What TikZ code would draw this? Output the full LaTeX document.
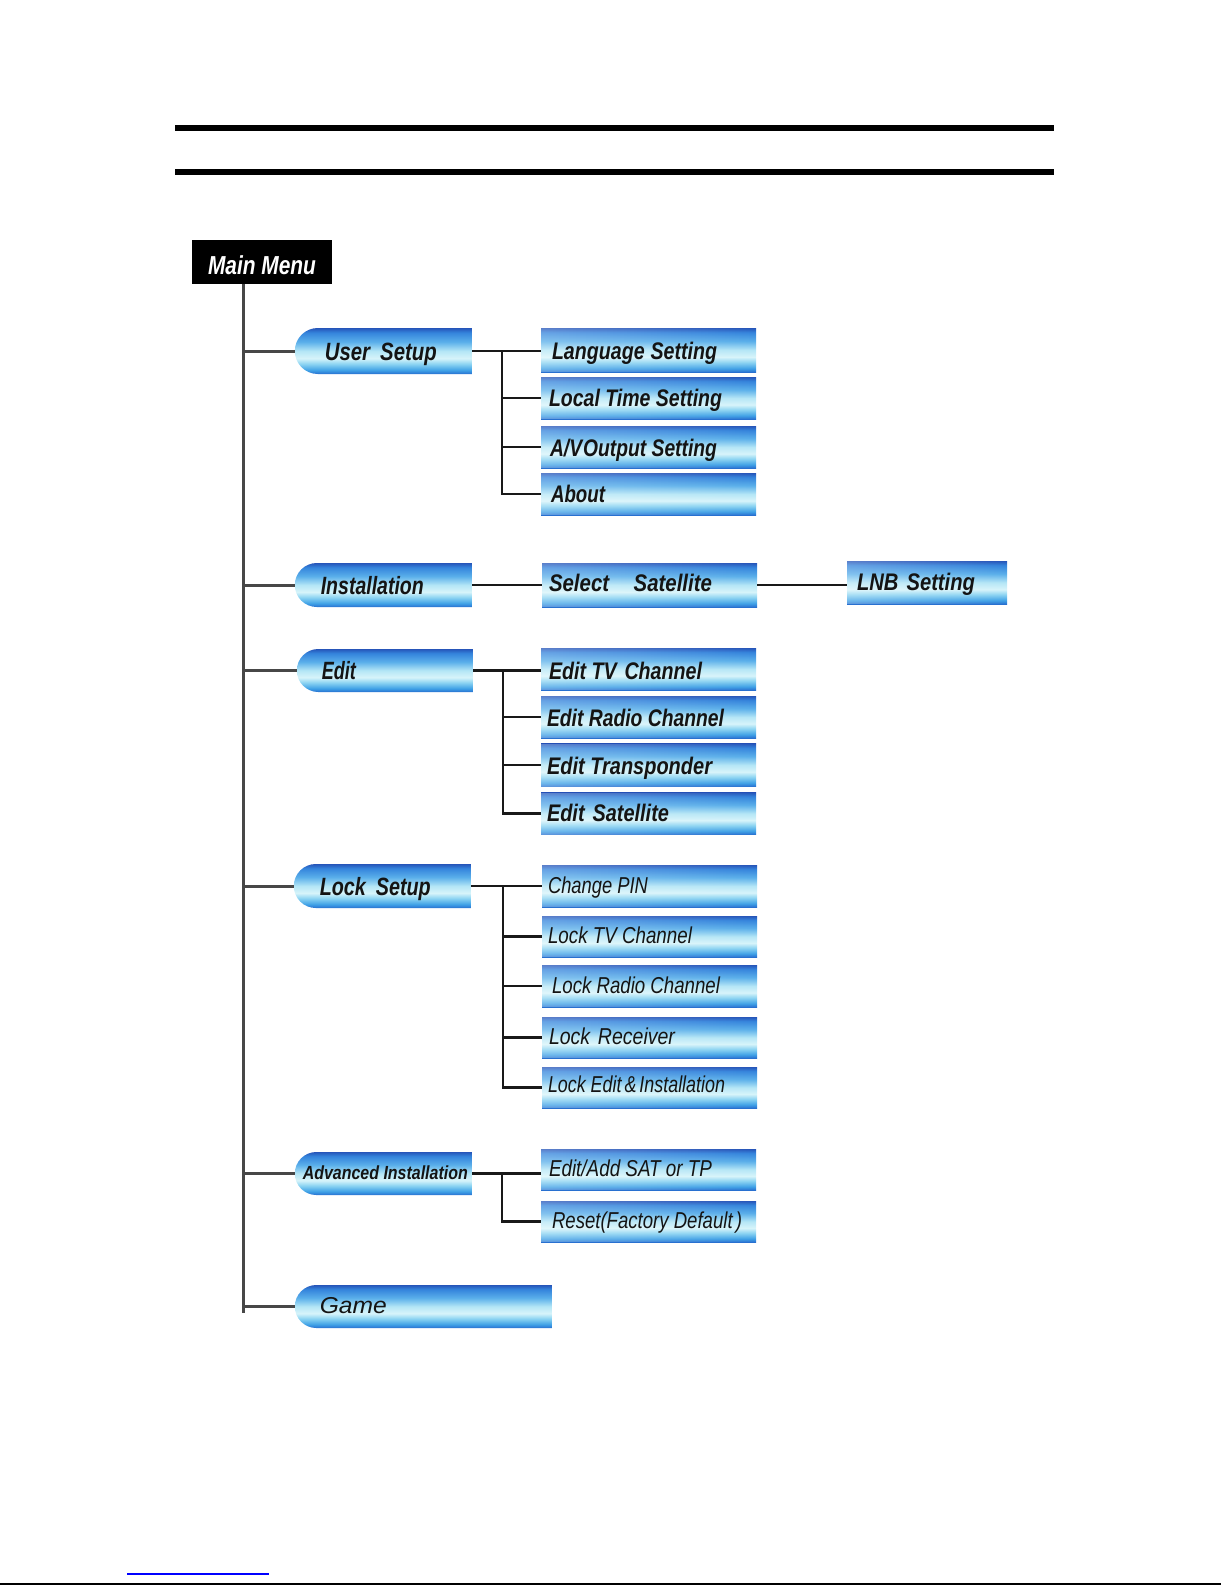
\documentclass[tikz,border=0pt]{standalone}
\usepackage{fontspec}
\setmainfont{Liberation Sans}
\usetikzlibrary{shapes.misc,calc,fadings}
\definecolor{sb0}{RGB}{40,112,208}
\definecolor{sb1}{RGB}{62,160,230}
\definecolor{sb2}{RGB}{140,212,242}
\definecolor{sb3}{RGB}{215,244,250}
\definecolor{sb4}{RGB}{180,230,246}
\definecolor{sb5}{RGB}{90,175,234}
\definecolor{sb6}{RGB}{52,132,220}
\definecolor{sb7}{RGB}{38,85,185}
\pgfdeclareverticalshading{boxshade}{100bp}{color(0bp)=(sb0); color(25bp)=(sb0); color(29bp)=(sb1); color(36bp)=(sb2); color(42bp)=(sb3); color(50bp)=(sb4); color(60bp)=(sb5); color(70bp)=(sb6); color(75bp)=(sb7); color(100bp)=(sb7)}
\newcommand\fitw[2]{\resizebox{#1pt}{\height}{#2}}
\begin{document}
\begin{tikzpicture}[x=1pt,y=-1pt,
  glow/.style={postaction={fill=white, fill opacity=0.25, path fading=east}},
  l1/.style={rounded rectangle, rounded rectangle right arc=none, shade, shading=boxshade, draw=none, inner sep=0pt, anchor=east},
  l2/.style={rectangle, shade, shading=boxshade, draw=none, inner sep=0pt, minimum width=215pt, glow},
  tl/.style={font=\fontsize{24}{28}\selectfont\bfseries\itshape, text=black!92, inner sep=0pt, anchor=base west},
  tls/.style={tl, font=\fontsize{23}{27}\selectfont\itshape},
  conn/.style={line width=2.8pt, black!90},
  trunkline/.style={line width=3pt, black!72}]
\useasboundingbox (0,0) rectangle (1225,1585);
% rules
\draw[line width=6pt] (175,128) -- (1054,128);
\draw[line width=6pt] (175,172) -- (1054,172);
\draw[blue, line width=1.3pt] (127,1574) -- (269,1574);
\draw[line width=1.6pt] (0,1584) -- (1221,1584);
% main menu
\node[fill=black, minimum width=140pt, minimum height=44pt, inner sep=0pt] (mm) at (262,262) {};
\node[font=\fontsize{26}{30}\selectfont\bfseries\itshape, text=white, inner sep=0pt, anchor=base] (mmT) at ([yshift=-12pt]mm.center) {\fitw{108}{Main Menu}};
% level 1 boxes
\node[l1, minimum width=177pt, minimum height=46pt] (us) at (472,351) {};
\node[l1, minimum width=177pt, minimum height=44pt] (ins) at (472,585) {};
\node[l1, minimum width=176pt, minimum height=43pt] (ed) at (473,670.5) {};
\node[l1, minimum width=177pt, minimum height=44pt] (lk) at (471,886) {};
\node[l1, minimum width=177pt, minimum height=43pt] (adv) at (472,1173.5) {};
\node[l1, minimum width=257pt, minimum height=43pt] (gm) at (552,1306.5) {};
% level 1 texts
\node[tl, font=\fontsize{25}{30}\selectfont\bfseries\itshape] (usT) at ([xshift=30pt,yshift=-9pt]us.west) {\fitw{112}{User\hspace{0.5em}Setup}};
\node[tl, font=\fontsize{25}{30}\selectfont\bfseries\itshape] (insT) at ([xshift=26pt,yshift=-9pt]ins.west) {\fitw{103}{Installation}};
\node[tl, font=\fontsize{25}{30}\selectfont\bfseries\itshape] (edT) at ([xshift=25pt,yshift=-9pt]ed.west) {\fitw{34}{Edit}};
\node[tl, font=\fontsize{25}{30}\selectfont\bfseries\itshape] (lkT) at ([xshift=26pt,yshift=-9pt]lk.west) {\fitw{111}{Lock\hspace{0.5em}Setup}};
\node[tl, font=\fontsize{19}{23}\selectfont\bfseries\itshape] (advT) at ([xshift=8pt,yshift=-6pt]adv.west) {\fitw{165}{Advanced Installation}};
\node[tl, font=\fontsize{23}{27}\selectfont\itshape] (gmT) at ([xshift=25pt,yshift=-7pt]gm.west) {\fitw{67}{Game}};
% level 2 boxes
\node[l2, minimum height=44pt] (ls) at (648.5,350) {};
\node[l2, minimum height=42pt] (lt) at (648.5,398) {};
\node[l2, minimum height=42pt] (av) at (648.5,447) {};
\node[l2, minimum height=42pt] (ab) at (648.5,494) {};
\node[l2, minimum height=44pt] (ss) at (649.5,585) {};
\node[l2, minimum width=160pt, minimum height=43pt] (lnb) at (927,582.5) {};
\node[l2, minimum height=42pt] (et) at (648.5,669) {};
\node[l2, minimum height=42pt] (er) at (648.5,717) {};
\node[l2, minimum height=43pt] (etp) at (648.5,765) {};
\node[l2, minimum height=42pt] (es) at (648.5,813.5) {};
\node[l2, minimum height=42pt] (cp) at (649.5,886) {};
\node[l2, minimum height=41pt] (ltv) at (649.5,936.5) {};
\node[l2, minimum height=42pt] (lrc) at (649.5,986) {};
\node[l2, minimum height=41pt] (lr) at (649.5,1037.5) {};
\node[l2, minimum height=41pt] (le) at (649.5,1087.5) {};
\node[l2, minimum height=41pt] (ea) at (648.5,1169.5) {};
\node[l2, minimum height=41pt] (rs) at (648.5,1221.5) {};
% level 2 texts
\node[tl] (lsT) at ([xshift=11pt,yshift=-9pt]ls.west) {\fitw{165}{Language\hspace{0.3em}Setting}};
\node[tl] (ltT) at ([xshift=8pt,yshift=-8pt]lt.west) {\fitw{173}{Local Time Setting}};
\node[tl] (avT) at ([xshift=9pt,yshift=-9pt]av.west) {\fitw{167}{A/V\hspace{0.05em}Output Setting}};
\node[tl] (abT) at ([xshift=10pt,yshift=-8pt]ab.west) {\fitw{54}{About}};
\node[tl] (ssT) at ([xshift=7pt,yshift=-6pt]ss.west) {\fitw{163}{Select\hspace{1.2em}Satellite}};
\node[tl] (lnbT) at ([xshift=10pt,yshift=-8pt]lnb.west) {\fitw{118}{LNB\hspace{0.4em}Setting}};
\node[tl] (etT) at ([xshift=8pt,yshift=-10pt]et.west) {\fitw{153}{Edit TV\hspace{0.4em}Channel}};
\node[tl] (erT) at ([xshift=6pt,yshift=-9pt]er.west) {\fitw{177}{Edit Radio Channel}};
\node[tl] (etpT) at ([xshift=6pt,yshift=-9pt]etp.west) {\fitw{165}{Edit Transponder}};
\node[tl] (esT) at ([xshift=6pt,yshift=-8pt]es.west) {\fitw{122}{Edit\hspace{0.4em}Satellite}};
\node[tls] (cpT) at ([xshift=6pt,yshift=-7pt]cp.west) {\fitw{100}{Change PIN}};
\node[tls] (ltvT) at ([xshift=6pt,yshift=-7pt]ltv.west) {\fitw{144}{Lock TV Channel}};
\node[tls] (lrcT) at ([xshift=10pt,yshift=-7pt]lrc.west) {\fitw{168}{Lock Radio Channel}};
\node[tls] (lrT) at ([xshift=7pt,yshift=-7pt]lr.west) {\fitw{126}{Lock\hspace{0.4em}Receiver}};
\node[tls] (leT) at ([xshift=6pt,yshift=-5pt]le.west) {\fitw{177}{Lock Edit\,\&\,Installation}};
\node[tls] (eaT) at ([xshift=8pt,yshift=-7pt]ea.west) {\fitw{163}{Edit/Add SAT or TP}};
\node[tls] (rsT) at ([xshift=11pt,yshift=-7pt]rs.west) {\fitw{190}{Reset(Factory Default\,)}};
% trunk
\coordinate (tkb) at (243,1313);
\draw[trunkline] (tkb |- mm.south) -- (tkb);
\foreach \n in {us,ins,ed,lk,adv,gm}{\draw[trunkline] (tkb |- \n.west) -- (\n.west);}
% user setup
\coordinate (usj) at ([xshift=30pt]us.east);
\draw[conn] (us.east) -- (us.east -| ls.west);
\draw[conn] (usj) |- (ab.west);
\draw[conn] (usj |- lt.west) -- (lt.west);
\draw[conn] (usj |- av.west) -- (av.west);
% installation
\draw[conn] (ins.east) -- (ins.east -| ss.west);
\draw[conn] (ss.east) -- (ss.east -| lnb.west);
% edit
\coordinate (edj) at ([xshift=30pt]ed.east);
\draw[conn] (ed.east) -- (ed.east -| et.west);
\draw[conn] (edj) |- (es.west);
\draw[conn] (edj |- er.west) -- (er.west);
\draw[conn] (edj |- etp.west) -- (etp.west);
% lock
\coordinate (lkj) at ([xshift=32pt]lk.east);
\draw[conn] (lk.east) -- (lk.east -| cp.west);
\draw[conn] (lkj) |- (le.west);
\draw[conn] (lkj |- ltv.west) -- (ltv.west);
\draw[conn] (lkj |- lrc.west) -- (lrc.west);
\draw[conn] (lkj |- lr.west) -- (lr.west);
% advanced
\coordinate (advj) at ([xshift=30pt]adv.east);
\draw[conn] (adv.east) -- (adv.east -| ea.west);
\draw[conn] (advj) |- (rs.west);
\end{tikzpicture}
\end{document}
